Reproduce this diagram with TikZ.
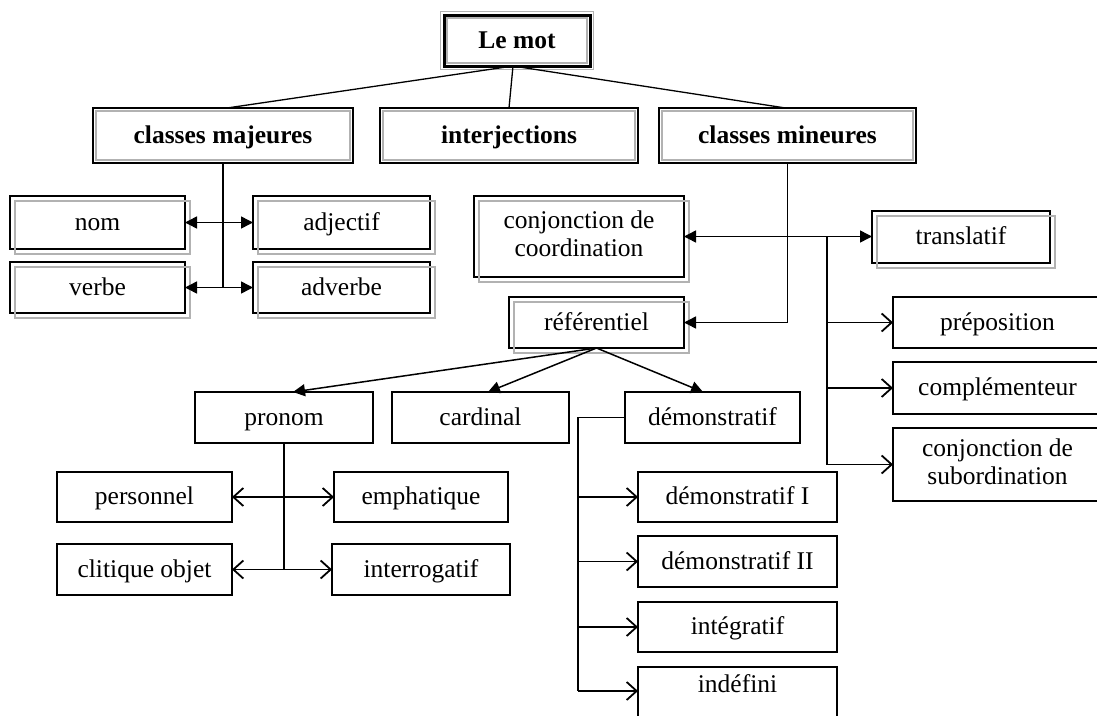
\documentclass[tikz,border=0pt]{standalone}
\usepackage{fontspec}
\setmainfont{Liberation Serif}
\usetikzlibrary{arrows.meta}
\tikzset{
  every node/.style={font=\fontsize{25.5}{29}\selectfont, inner sep=0pt, outer sep=0pt, align=center},
  sl/.style={text height=19pt, text depth=4pt},
  topbox/.style={draw=black, line width=3pt, sl},
  lvlbox/.style={draw=black, line width=2.5pt, minimum height=55pt, sl},
  shbox/.style={draw=black, line width=2.2pt},
  plbox/.style={draw=black, line width=2.2pt},
  thbox/.style={draw=black, line width=1.4pt},
  conn/.style={draw=black, line width=1.5pt},
  fa/.style={-{Triangle[length=12pt,width=12pt]}},
  ffa/.style={{Triangle[length=12pt,width=12pt]}-{Triangle[length=12pt,width=12pt]}},
  oa/.style={-{Straight Barb[length=10pt,width=18pt,line width=1.8pt]}},
  ooa/.style={{Straight Barb[length=10pt,width=18pt,line width=1.8pt]}-{Straight Barb[length=10pt,width=18pt,line width=1.8pt]}},
  shadowframe/.style={draw=gray!60, line width=2pt},
  innerframe/.style={draw=gray!60, line width=1.6pt}
}
\begin{document}
\begin{tikzpicture}[x=1pt,y=1pt]
\useasboundingbox[fill=white] (0,0) rectangle (1097,-715);
\begin{scope}
\clip (0,0) rectangle (1097,-715);
% top
\node[topbox, minimum width=146pt, minimum height=51pt] (lm) at (517,-40.5) {\textbf{Le mot}};
% level 1
\node[lvlbox, minimum width=260pt] (maj) at (223,-135.5) {\textbf{classes majeures}};
\node[lvlbox, minimum width=258pt] (int) at (509,-135.5) {\textbf{interjections}};
\node[lvlbox, minimum width=257pt] (min) at (787.5,-135.5) {\textbf{classes mineures}};
% majeures children
\node[shbox, sl, minimum width=175pt, minimum height=53pt] (nom) at (97.5,-222.5) {nom};
\node[shbox, sl, minimum width=177pt, minimum height=53pt] (adj) at (341.5,-222.5) {adjectif};
\node[shbox, sl, minimum width=175pt, minimum height=51pt] (verbe) at (97.5,-287.5) {verbe};
\node[shbox, sl, minimum width=177pt, minimum height=51pt] (adv) at (341.5,-287.5) {adverbe};
% mineures children
\node[shbox, minimum width=210pt, minimum height=81pt] (conj) at (579,-236.5) {conjonction de\\[-1pt]coordination\vphantom{g}};
\node[shbox, sl, minimum width=175pt, minimum height=51pt] (ref) at (596.5,-322.5) {référentiel};
\node[shbox, sl, minimum width=178pt, minimum height=52pt] (trans) at (961,-237) {translatif};
\node[plbox, sl, minimum width=209pt, minimum height=51pt] (prep) at (997.5,-322.5) {préposition};
\node[plbox, sl, minimum width=209pt, minimum height=52pt] (compl) at (997.5,-388) {complémenteur};
\node[plbox, minimum width=209pt, minimum height=73pt] (subord) at (997.5,-464.5) {conjonction de\\[-1pt]subordination\vphantom{g}};
% referentiel children
\node[plbox, sl, minimum width=178pt, minimum height=51pt] (pronom) at (284,-417.5) {pronom};
\node[plbox, sl, minimum width=177pt, minimum height=51pt] (card) at (480.5,-417.5) {cardinal};
\node[plbox, sl, minimum width=175pt, minimum height=51pt] (dem) at (712.5,-417.5) {démonstratif};
% pronom children
\node[thbox, sl, minimum width=175pt, minimum height=50pt] (pers) at (144.5,-497) {personnel};
\node[thbox, sl, minimum width=174pt, minimum height=50pt] (emph) at (421,-497) {emphatique};
\node[thbox, sl, minimum width=175pt, minimum height=51pt] (clit) at (144.5,-569.5) {clitique objet};
\node[thbox, sl, minimum width=178pt, minimum height=51pt] (inter) at (421,-569.5) {interrogatif};
% demonstratif children
\node[thbox, sl, minimum width=199pt, minimum height=50pt] (demI) at (737.5,-497) {démonstratif I};
\node[thbox, sl, minimum width=199pt, minimum height=51pt] (demII) at (737.5,-561.5) {démonstratif II};
\node[thbox, sl, minimum width=199pt, minimum height=50pt] (integ) at (737.5,-627) {intégratif};
\node[thbox, minimum width=199pt, text height=25pt, text depth=30pt, anchor=north] (indef) at (737.5,-667) {indéfini};

% frames
\draw[innerframe] ([shift={(-3.5,3.5)}]lm.north west) rectangle ([shift={(3.5,-3.5)}]lm.south east);
\draw[innerframe] ([shift={(3,-3)}]lm.north west) rectangle ([shift={(-3,3)}]lm.south east);
\foreach \n in {maj,int,min}
  \draw[innerframe] ([shift={(3,-3)}]\n.north west) rectangle ([shift={(-3,3)}]\n.south east);
\foreach \n in {nom,adj,verbe,adv,conj,ref,trans}
  \draw[shadowframe] ([shift={(5,-5)}]\n.north west) rectangle ([shift={(5,-5)}]\n.south east);

% connectors level 1
\draw[conn, line width=1.3pt] ([xshift=-4pt]lm.south) -- ([xshift=4pt]maj.north);
\draw[conn, line width=1.3pt] ([xshift=-4pt]lm.south) -- (int.north);
\draw[conn, line width=1.3pt] ([xshift=-4pt]lm.south) -- ([xshift=-2pt]min.north);

% majeures
\draw[conn] (maj.south) -- (maj.south |- verbe.east);
\draw[conn, ffa] (nom.east) -- (adj.west);
\draw[conn, ffa] (verbe.east) -- (adv.west);

% mineures
\draw[conn, fa] (min.south) |- (ref.east);
\draw[conn, ffa] (conj.east) -- (conj.east -| trans.west);
\coordinate (tv) at (827,-237);
\draw[conn] (tv) -- (tv |- subord.west);
\draw[conn, oa] (tv |- prep.west) -- (prep.west);
\draw[conn, oa] (tv |- compl.west) -- (compl.west);
\draw[conn, oa] (tv |- subord.west) -- (subord.west);

% referentiel
\draw[conn, fa] (ref.south) -- ([xshift=9pt]pronom.north);
\draw[conn, fa] (ref.south) -- ([xshift=7.5pt]card.north);
\draw[conn, fa] (ref.south) -- ([xshift=-9.5pt]dem.north);

% pronom
\draw[conn] (pronom.south) -- (pronom.south |- clit.east);
\draw[conn, ooa] (pers.east) -- (emph.west);
\draw[conn, ooa] (clit.east) -- (inter.west);

% demonstratif
\coordinate (dcorner) at (578,-417.5);
\coordinate (dend) at (578,-691);
\draw[conn] (dem.west) -- (dcorner) -- (dend);
\draw[conn, oa] (dcorner |- demI.west) -- (demI.west);
\draw[conn, oa] (dcorner |- demII.west) -- (demII.west);
\draw[conn, oa] (dcorner |- integ.west) -- (integ.west);
\draw[conn, oa] (dend) -- (dend -| indef.west);
\end{scope}
\end{tikzpicture}
\end{document}
